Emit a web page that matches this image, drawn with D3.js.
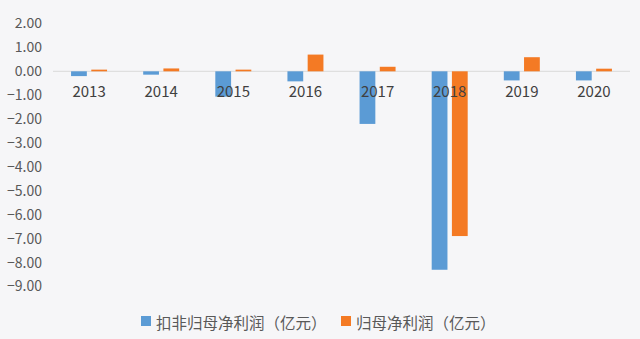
<!DOCTYPE html>
<html>
<head>
<meta charset="utf-8">
<script src="https://cdn.jsdelivr.net/npm/d3@7"></script>
<style>
  html, body { margin: 0; padding: 0; background: #f6f6f8; }
  svg { display: block; }
</style>
</head>
<body>
<svg id="chart" width="640" height="339"></svg>
<script>
// Annual profit figures, 亿元
const years = ["2013", "2014", "2015", "2016", "2017", "2018", "2019", "2020"];
const deductedProfit = [-0.20, -0.14, -1.06, -0.42, -2.20, -8.30, -0.38, -0.38];
const netProfit = [0.07, 0.12, 0.07, 0.70, 0.19, -6.89, 0.59, 0.11];
const seriesNames = ["扣非归母净利润（亿元）", "归母净利润（亿元）"];
const seriesColors = ["#5b9bd5", "#f47a24"];
const yTicks = [2, 1, 0, -1, -2, -3, -4, -5, -6, -7, -8, -9];

const svg = d3.select("#chart");
const font = "'Noto Sans CJK SC', 'Open Sans', sans-serif";

const x = d3.scaleBand().domain(years).range([53, 630]).paddingInner(0).paddingOuter(0);
const y = d3.scaleLinear().domain([-9, 2]).range([286.5, 23.5]);

const inner = d3.scaleBand().domain([0, 1]).range([x.bandwidth() / 2 - 18, x.bandwidth() / 2 + 18]).paddingInner(0.22);

// Y axis labels (no axis line)
const yAxis = d3.axisLeft(y).tickValues(yTicks).tickFormat(d3.format(".2f")).tickSize(0).tickPadding(0);
const yg = svg.append("g").attr("transform", "translate(42,0)").call(yAxis);
yg.select(".domain").remove();
yg.selectAll("text")
  .attr("fill", "#595959")
  .style("font-family", font)
  .style("font-size", "14px");

// Zero line
svg.append("line")
  .attr("x1", 53).attr("x2", 630)
  .attr("y1", y(0)).attr("y2", y(0))
  .attr("stroke", "#d9d9d9").attr("stroke-width", 1);

// Bars
const series = [deductedProfit, netProfit];
series.forEach((vals, si) => {
  svg.append("g").selectAll("rect")
    .data(years.map((yr, i) => ({ yr, v: vals[i] })))
    .join("rect")
    .attr("x", d => x(d.yr) + inner(si))
    .attr("width", inner.bandwidth())
    .attr("y", d => y(Math.max(0, d.v)))
    .attr("height", d => Math.abs(y(d.v) - y(0)))
    .attr("fill", seriesColors[si]);
});

// Category labels sitting just below the zero line
const xAxis = d3.axisBottom(x).tickSize(0).tickPadding(0);
const xg = svg.append("g").attr("transform", `translate(0,${y(0) + 20})`).call(xAxis);
xg.select(".domain").remove();
xg.selectAll("text")
  .attr("fill", "#404040")
  .attr("dy", "0.36em")
  .attr("y", 0)
  .style("font-family", font)
  .style("font-size", "15px");

// Legend
const legend = svg.append("g");
const legendItems = [
  { name: seriesNames[0], color: seriesColors[0], x: 141 },
  { name: seriesNames[1], color: seriesColors[1], x: 341 }
];
legendItems.forEach(it => {
  legend.append("rect")
    .attr("x", it.x).attr("y", 316).attr("width", 10).attr("height", 10)
    .attr("fill", it.color);
  legend.append("text")
    .attr("x", it.x + 15).attr("y", 323.5)
    .attr("dy", "0.36em")
    .attr("fill", "#595959")
    .style("font-family", font)
    .style("font-size", "15.5px")
    .text(it.name);
});
</script>
</body>
</html>
